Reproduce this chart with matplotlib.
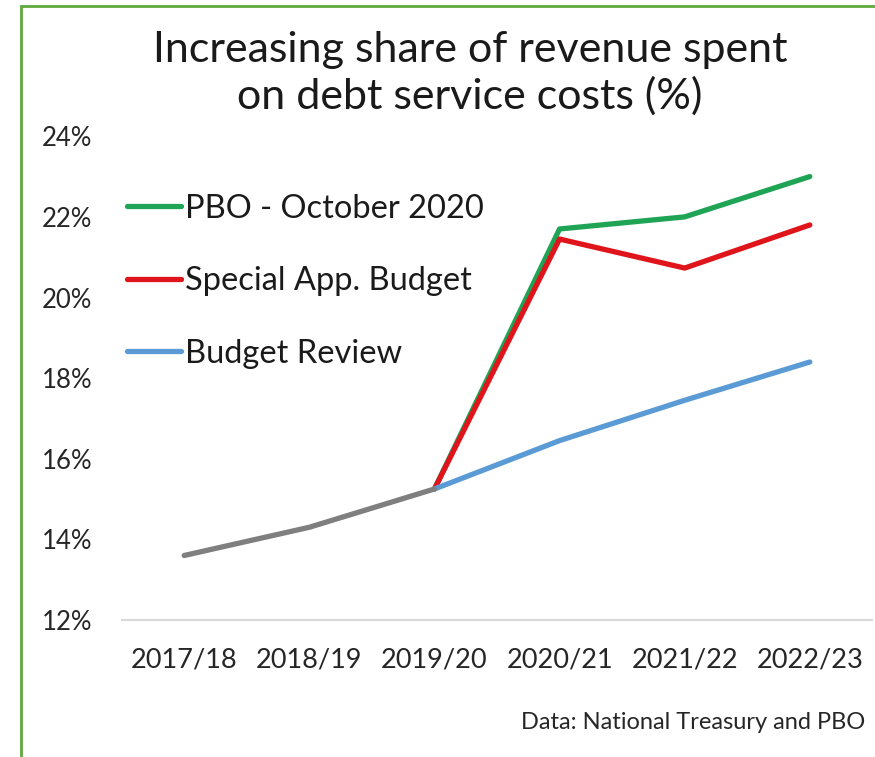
import matplotlib
matplotlib.use("Agg")
import matplotlib.pyplot as plt
from matplotlib.patches import Rectangle
from matplotlib.ticker import FuncFormatter

plt.rcParams["font.family"] = ["Lato", "DejaVu Sans"]

years = ["2017/18", "2018/19", "2019/20", "2020/21", "2021/22", "2022/23"]

# history shared by every projection (2017/18 - 2019/20)
actual = [13.6, 14.3, 15.25]

# projections from 2019/20 onwards
pbo_oct = [15.25, 21.7, 22.0, 23.0]
special_budget = [15.25, 21.45, 20.73, 21.8]
budget_review = [15.25, 16.45, 17.45, 18.4]

GREEN = "#1FA456"
RED = "#E0141B"
BLUE = "#5B9BD5"
GREY = "#7F7F7F"

fig = plt.figure(figsize=(8.75, 7.57), dpi=100)
ax = fig.add_axes([0.139, 0.181, 0.858, 0.639])

proj_x = list(range(2, 6))
lw = 3.8
ax.plot(proj_x, pbo_oct, color=GREEN, lw=lw, solid_capstyle="round",
        solid_joinstyle="round", label="PBO - October 2020")
ax.plot(proj_x, special_budget, color=RED, lw=lw, solid_capstyle="round",
        solid_joinstyle="round", label="Special App. Budget")
ax.plot(proj_x, budget_review, color=BLUE, lw=lw, solid_capstyle="round",
        solid_joinstyle="round", label="Budget Review")
ax.plot(range(3), actual, color=GREY, lw=lw, solid_capstyle="round",
        solid_joinstyle="round")

ax.set_xlim(-0.5, 5.5)
ax.set_ylim(12, 24)
ax.set_yticks(range(12, 25, 2))
ax.yaxis.set_major_formatter(FuncFormatter(lambda v, p: f"{v:.0f}%"))
ax.set_xticks(range(len(years)))
ax.set_xticklabels(years)
ax.tick_params(axis="both", length=0, colors="#262626")
ax.tick_params(axis="y", pad=21, labelsize=18.5)
ax.tick_params(axis="x", pad=20, labelsize=19.5)

for side in ["top", "right", "left"]:
    ax.spines[side].set_visible(False)
ax.spines["bottom"].set_color("#D9D9D9")
ax.spines["bottom"].set_linewidth(1.5)

leg = ax.legend(loc="upper left", bbox_to_anchor=(-0.014, 0.915), frameon=False,
                fontsize=23.5, handlelength=1.65, handletextpad=0.1,
                labelspacing=1.3, borderaxespad=0.1)
for t in leg.get_texts():
    t.set_color("#1a1a1a")

fig.text(0.537, 0.903, "Increasing share of revenue spent\non debt service costs (%)",
         ha="center", va="center", fontsize=31, color="#1a1a1a", linespacing=1.2)
fig.text(0.989, 0.046, "Data: National Treasury and PBO", ha="right", va="center",
         fontsize=17, color="#262626")

# green frame on the top and left edges
fig.add_artist(Rectangle((0.024, -0.05), 1.1, 1.042, transform=fig.transFigure,
                         fill=False, edgecolor="#5FA83C", linewidth=2))

fig.savefig("out.png", dpi=100, facecolor="white")
